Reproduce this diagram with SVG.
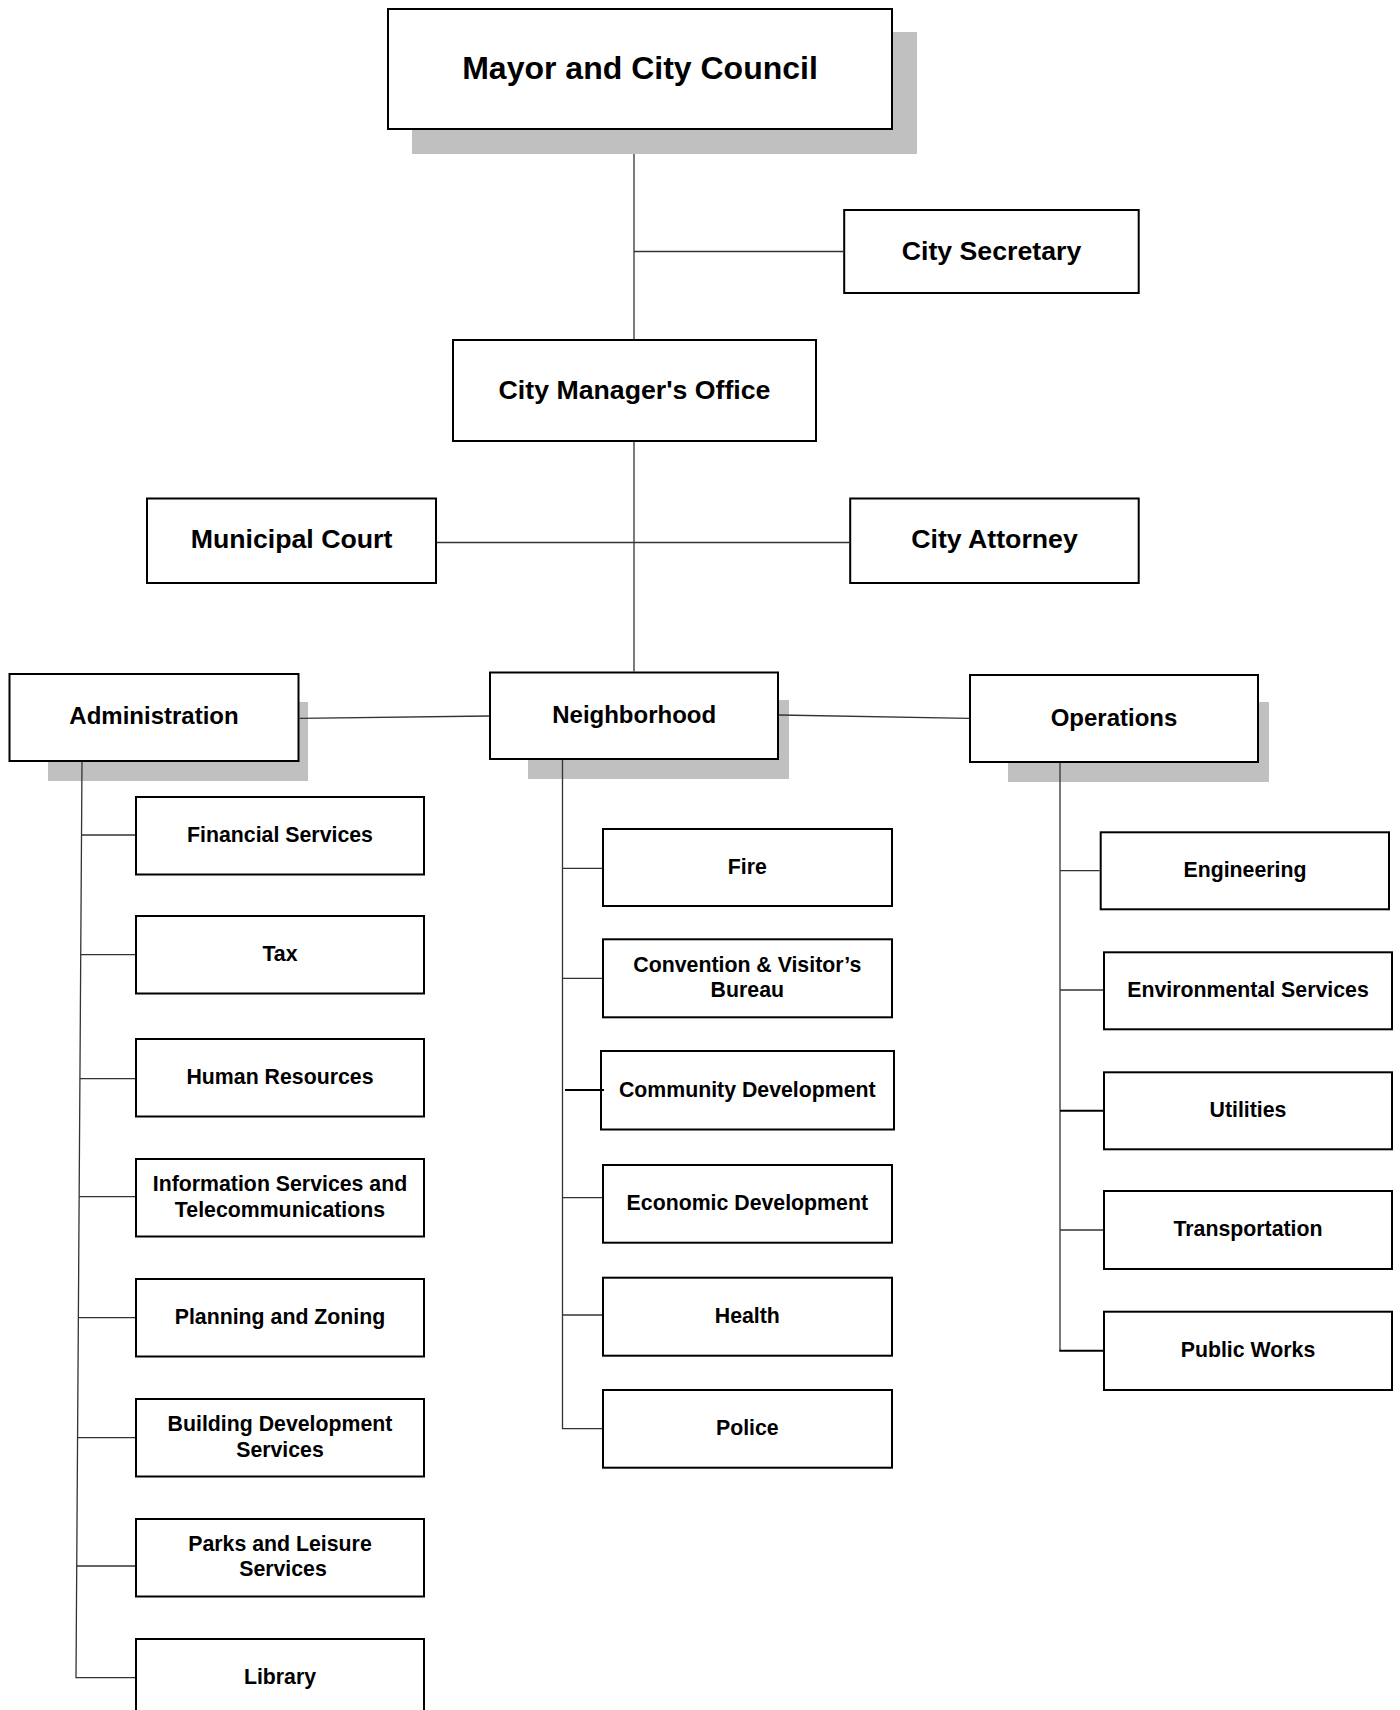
<svg xmlns="http://www.w3.org/2000/svg" width="1400" height="1710" viewBox="0 0 1400 1710">
<style>
.bg{fill:#ffffff}
.box{fill:#ffffff;stroke:#000000;stroke-width:2}
.sh{fill:#c0c0c0;stroke:none}
.ln{fill:none;stroke:#333333;stroke-width:1.3}
.lnk{fill:none;stroke:#000000;stroke-width:2}
text{font-family:"Liberation Sans",Arial,Helvetica,sans-serif;font-weight:bold;fill:#000000;text-anchor:middle}
.t1{font-size:32px}
.t2{font-size:26.7px}
.t3{font-size:24px}
.t4{font-size:21.3px}
</style>
<rect class="bg" x="0" y="0" width="1400" height="1710"/>
<g id="mayor">
<rect class="sh" x="412" y="32" width="505" height="122"/>
<rect class="box" x="388" y="9" width="504" height="120"/>
<text class="t1" x="640" y="79.3">Mayor and City Council</text>
</g>
<g id="city-secretary">
<rect class="box" x="844.2" y="210" width="294.5" height="83"/>
<text class="t2" x="991.5" y="260">City Secretary</text>
</g>
<g id="city-manager">
<rect class="box" x="453" y="340" width="363" height="101"/>
<text class="t2" x="634.5" y="399.3">City Manager's Office</text>
</g>
<g id="municipal-court">
<rect class="box" x="147" y="498.5" width="289" height="84.5"/>
<text class="t2" x="291.5" y="548.3">Municipal Court</text>
</g>
<g id="city-attorney">
<rect class="box" x="850.2" y="498.5" width="288.5" height="84.5"/>
<text class="t2" x="994.5" y="548.3">City Attorney</text>
</g>
<g id="administration">
<rect class="sh" x="48" y="702" width="260" height="79"/>
<rect class="box" x="9.5" y="674" width="289" height="87"/>
<text class="t3" x="154" y="724.3">Administration</text>
</g>
<g id="neighborhood">
<rect class="sh" x="528" y="700" width="261" height="79"/>
<rect class="box" x="490" y="672.5" width="288" height="86.5"/>
<text class="t3" x="634.2" y="723.3">Neighborhood</text>
</g>
<g id="operations">
<rect class="sh" x="1008" y="702" width="261" height="80"/>
<rect class="box" x="970" y="675" width="288" height="87"/>
<text class="t3" x="1114" y="725.7">Operations</text>
</g>
<g id="financial-services">
<rect class="box" x="136" y="797" width="288" height="77.5"/>
<text class="t4" x="280" y="842">Financial Services</text>
</g>
<g id="tax">
<rect class="box" x="136" y="916" width="288" height="77.5"/>
<text class="t4" x="280" y="961">Tax</text>
</g>
<g id="human-resources">
<rect class="box" x="136" y="1039" width="288" height="77.5"/>
<text class="t4" x="280" y="1083.5">Human Resources</text>
</g>
<g id="information-services">
<rect class="box" x="136" y="1159" width="288" height="77.5"/>
<text class="t4" x="280" y="1190.8">Information Services and</text>
<text class="t4" x="280" y="1216.7">Telecommunications</text>
</g>
<g id="planning-zoning">
<rect class="box" x="136" y="1279" width="288" height="77.5"/>
<text class="t4" x="280" y="1324">Planning and Zoning</text>
</g>
<g id="building-development">
<rect class="box" x="136" y="1399" width="288" height="77.5"/>
<text class="t4" x="280" y="1430.7">Building Development</text>
<text class="t4" x="280" y="1456.7">Services</text>
</g>
<g id="parks-leisure">
<rect class="box" x="136" y="1519" width="288" height="77.5"/>
<text class="t4" x="280" y="1550.7">Parks and Leisure</text>
<text class="t4" x="283" y="1576.3">Services</text>
</g>
<g id="library">
<rect class="box" x="136" y="1639" width="288" height="78"/>
<text class="t4" x="280" y="1684">Library</text>
</g>
<g id="fire">
<rect class="box" x="603" y="829" width="289" height="77"/>
<text class="t4" x="747.3" y="873.5">Fire</text>
</g>
<g id="convention-visitors-bureau">
<rect class="box" x="603" y="939.3" width="289" height="78"/>
<text class="t4" x="747.3" y="971.7">Convention &amp; Visitor’s</text>
<text class="t4" x="747.3" y="997.3">Bureau</text>
</g>
<g id="community-development">
<rect class="box" x="601" y="1051" width="293" height="78.5"/>
<text class="t4" x="747.3" y="1096.5">Community Development</text>
</g>
<g id="economic-development">
<rect class="box" x="603" y="1165" width="289" height="77.7"/>
<text class="t4" x="747.3" y="1210">Economic Development</text>
</g>
<g id="health">
<rect class="box" x="603" y="1277.7" width="289" height="78"/>
<text class="t4" x="747.3" y="1322.7">Health</text>
</g>
<g id="police">
<rect class="box" x="603" y="1390" width="289" height="77.7"/>
<text class="t4" x="747.3" y="1435">Police</text>
</g>
<g id="engineering">
<rect class="box" x="1100.7" y="832.3" width="288.3" height="77"/>
<text class="t4" x="1245" y="877">Engineering</text>
</g>
<g id="environmental-services">
<rect class="box" x="1104" y="952.3" width="288" height="77"/>
<text class="t4" x="1248" y="996.7">Environmental Services</text>
</g>
<g id="utilities">
<rect class="box" x="1104" y="1072.3" width="288" height="77"/>
<text class="t4" x="1248" y="1117.3">Utilities</text>
</g>
<g id="transportation">
<rect class="box" x="1104" y="1191" width="288" height="78"/>
<text class="t4" x="1248" y="1236">Transportation</text>
</g>
<g id="public-works">
<rect class="box" x="1104" y="1311.7" width="288" height="78.3"/>
<text class="t4" x="1248" y="1357.3">Public Works</text>
</g>
<g id="connectors">
<line class="ln" x1="634" y1="154" x2="634" y2="339"/>
<line class="ln" x1="634" y1="251.5" x2="843.2" y2="251.5"/>
<line class="ln" x1="634" y1="442" x2="634" y2="671.5"/>
<line class="ln" x1="437" y1="542.5" x2="849.2" y2="542.5"/>
<line class="ln" x1="299.5" y1="718.3" x2="489" y2="716"/>
<line class="ln" x1="779" y1="715" x2="969" y2="718.3"/>
<path class="ln" d="M82 762 L76 1677.7 L135 1677.7"/>
<line class="ln" x1="81.5" y1="835" x2="135" y2="835"/>
<line class="ln" x1="80.7" y1="954.7" x2="135" y2="954.7"/>
<line class="ln" x1="79.9" y1="1078.7" x2="135" y2="1078.7"/>
<line class="ln" x1="79.1" y1="1196.7" x2="135" y2="1196.7"/>
<line class="ln" x1="78.4" y1="1317.7" x2="135" y2="1317.7"/>
<line class="ln" x1="77.6" y1="1437.7" x2="135" y2="1437.7"/>
<line class="ln" x1="76.7" y1="1566" x2="135" y2="1566"/>
<path class="ln" d="M562.5 760 L562.5 1428.7 L602 1428.7"/>
<line class="ln" x1="562.5" y1="868.3" x2="602" y2="868.3"/>
<line class="ln" x1="562.5" y1="978.3" x2="602" y2="978.3"/>
<line class="lnk" x1="565" y1="1090" x2="604" y2="1090"/>
<line class="ln" x1="562.5" y1="1197.7" x2="602" y2="1197.7"/>
<line class="ln" x1="562.5" y1="1315" x2="602" y2="1315"/>
<path class="ln" d="M1060 763 L1060 1350.7"/>
<line class="ln" x1="1060" y1="870.7" x2="1099.7" y2="870.7"/>
<line class="ln" x1="1060" y1="990" x2="1103" y2="990"/>
<line class="lnk" x1="1060" y1="1110.7" x2="1103" y2="1110.7"/>
<line class="ln" x1="1060" y1="1230" x2="1103" y2="1230"/>
<line class="lnk" x1="1059.3" y1="1350.7" x2="1103" y2="1350.7"/>
</g>
</svg>
